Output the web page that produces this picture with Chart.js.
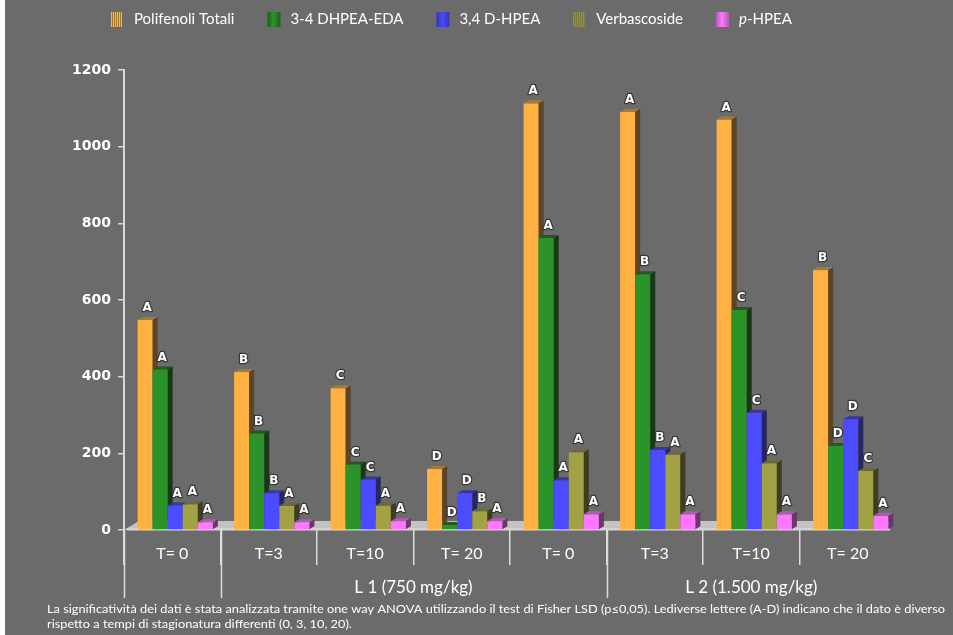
<!DOCTYPE html>
<html>
<head>
<meta charset="utf-8">
<script src="https://cdn.jsdelivr.net/npm/chart.js@4.4.1/dist/chart.umd.min.js"></script>
<style>
  html, body { margin: 0; padding: 0; background: #ffffff; }
  #wrap { position: relative; width: 953px; height: 635px; }
  canvas { display: block; }
</style>
</head>
<body>
<div id="wrap"><canvas id="chart" width="953" height="635"></canvas></div>
<script>
// Sampling times (months of ripening) for the two enrichment levels
const categories = ['T= 0', 'T=3', 'T=10', 'T= 20', 'T= 0', 'T=3', 'T=10', 'T= 20'];
const seriesNames = ['Polifenoli Totali', '3-4 DHPEA-EDA', '3,4 D-HPEA', 'Verbascoside', 'p-HPEA'];

// Phenolic content (mg/kg)
const polifenoliTotali = [548, 412, 370, 159, 1113, 1091, 1071, 678];
const dhpeaEda         = [419, 252, 171, 13, 762, 667, 574, 219];
const dHpea            = [64, 96, 132, 96, 130, 209, 306, 289];
const verbascoside     = [67, 63, 64, 49, 203, 197, 174, 154];
const pHpea            = [20, 20, 23, 23, 41, 41, 41, 37];

// Fisher LSD significance letters
const lettersPolifenoli   = ['A', 'B', 'C', 'D', 'A', 'A', 'A', 'B'];
const lettersDhpeaEda     = ['A', 'B', 'C', 'D', 'A', 'B', 'C', 'D'];
const lettersDHpea        = ['A', 'B', 'C', 'D', 'A', 'B', 'C', 'D'];
const lettersVerbascoside = ['A', 'A', 'A', 'B', 'A', 'A', 'A', 'C'];
const lettersPHpea        = ['A', 'A', 'A', 'A', 'A', 'A', 'A', 'A'];

const yTicks = [0, 200, 400, 600, 800, 1000, 1200];

// Level groups: label and the category boundaries they span
const groupLabels = ['L 1 (750 mg/kg)', 'L 2 (1.500 mg/kg)'];
const groupSpans = [[1, 5], [5, 8]];
const longDividers = [0, 1, 5];

const footnote = [
  'La significatività dei dati è stata analizzata tramite one way ANOVA utilizzando il test di Fisher LSD (p≤0,05). Lediverse lettere (A-D) indicano che il dato è diverso',
  'rispetto a tempi di stagionatura differenti (0, 3, 10, 20).'
];

const seriesValues = [polifenoliTotali, dhpeaEda, dHpea, verbascoside, pHpea];
const seriesLetters = [lettersPolifenoli, lettersDhpeaEda, lettersDHpea, lettersVerbascoside, lettersPHpea];

const palette = [
  { front: '#ffb142', top: '#a87a30', side: '#5c4426', swatch: 'stripe' },
  { front: '#2b9429', top: '#1f5c1d', side: '#193818', swatch: 'grad' },
  { front: '#4b4bff', top: '#3636a6', side: '#262660', swatch: 'grad' },
  { front: '#a3a145', top: '#6c6a32', side: '#3e3d22', swatch: 'stripe' },
  { front: '#ff77ff', top: '#b25ab2', side: '#683868', swatch: 'grad' }
];

const BG = '#6b6b6b';
const DEPTH_X = 5, DEPTH_Y = 3, BAR_SHIFT = 3;

// Background panel
const backgroundPlugin = {
  id: 'panel',
  beforeDraw(chart) {
    const ctx = chart.ctx;
    ctx.save();
    ctx.fillStyle = '#ffffff';
    ctx.fillRect(0, 0, chart.width, chart.height);
    ctx.fillStyle = BG;
    ctx.fillRect(5, 0, chart.width - 5, chart.height);
    ctx.restore();
  }
};

// Floor + 3D boxes + significance letters
const bars3dPlugin = {
  id: 'bars3d',
  beforeDatasetsDraw(chart) {
    const ctx = chart.ctx;
    const area = chart.chartArea;
    const base = chart.scales.y.getPixelForValue(0);
    ctx.save();
    // floor
    const fx0 = area.left, fx1 = area.right - 6, fb = base;
    ctx.fillStyle = '#c3c3c3';
    ctx.beginPath();
    ctx.moveTo(fx0, fb);
    ctx.lineTo(fx0 + 15, fb - 9);
    ctx.lineTo(fx1, fb - 9);
    ctx.lineTo(fx1, fb);
    ctx.closePath();
    ctx.fill();
    ctx.fillStyle = '#d4d4d4';
    ctx.fillRect(fx0 + 3, fb - 2, fx1 - fx0 - 3, 2.5);

    // boxes, left to right so each front face hides its neighbour's side
    chart.data.datasets.forEach((ds, i) => {
      const meta = chart.getDatasetMeta(i);
      const col = palette[i];
      meta.data.forEach((bar) => {
        const p = bar.getProps(['x', 'y', 'base', 'width'], true);
        const l = p.x - p.width / 2 + BAR_SHIFT;
        const r = p.x + p.width / 2 + BAR_SHIFT;
        const t = p.y, b = p.base;
        ctx.fillStyle = col.front;
        ctx.fillRect(l, t, r - l, b - t);
        ctx.fillStyle = col.top;
        ctx.beginPath();
        ctx.moveTo(l, t);
        ctx.lineTo(l + DEPTH_X, t - DEPTH_Y);
        ctx.lineTo(r + DEPTH_X, t - DEPTH_Y);
        ctx.lineTo(r, t);
        ctx.closePath();
        ctx.fill();
        ctx.fillStyle = col.side;
        ctx.beginPath();
        ctx.moveTo(r, t);
        ctx.lineTo(r + DEPTH_X, t - DEPTH_Y);
        ctx.lineTo(r + DEPTH_X, b - DEPTH_Y);
        ctx.lineTo(r, b);
        ctx.closePath();
        ctx.fill();
      });
    });

    // letters above each box
    ctx.font = 'bold 12px "DejaVu Sans"';
    ctx.textAlign = 'center';
    ctx.textBaseline = 'middle';
    ctx.lineJoin = 'round';
    chart.data.datasets.forEach((ds, i) => {
      const meta = chart.getDatasetMeta(i);
      meta.data.forEach((bar, j) => {
        const p = bar.getProps(['x', 'y'], true);
        const x = p.x + BAR_SHIFT + 2;
        const y = p.y - 12;
        const txt = seriesLetters[i][j];
        ctx.strokeStyle = 'rgba(40,40,40,0.75)';
        ctx.lineWidth = 2.5;
        ctx.strokeText(txt, x, y);
        ctx.fillStyle = '#ffffff';
        ctx.fillText(txt, x, y);
      });
    });
    ctx.restore();
    return false;
  }
};

// Legend, level groups and footnote
const decorPlugin = {
  id: 'decor',
  afterDraw(chart) {
    const ctx = chart.ctx;
    const xs = chart.scales.x;
    const bottom = chart.chartArea.bottom;
    ctx.save();

    // level dividers
    ctx.strokeStyle = '#dcdcdc';
    ctx.lineWidth = 1.5;
    longDividers.forEach((k) => {
      const x = Math.round(xs.getPixelForValue(k - 0.5)) + 0.5;
      ctx.beginPath();
      ctx.moveTo(x, bottom);
      ctx.lineTo(x, bottom + 68);
      ctx.stroke();
    });

    // level labels
    ctx.fillStyle = '#ffffff';
    ctx.font = '17px Lato';
    ctx.textAlign = 'center';
    ctx.textBaseline = 'middle';
    groupLabels.forEach((lab, g) => {
      const [a, b] = groupSpans[g];
      const x = (xs.getPixelForValue(a - 0.5) + xs.getPixelForValue(b - 0.5)) / 2;
      ctx.fillText(lab, x, bottom + 58);
    });

    // footnote
    ctx.font = '12px Lato';
    ctx.textAlign = 'left';
    ctx.textBaseline = 'middle';
    const k = 898 / ctx.measureText(footnote[0]).width;
    footnote.forEach((line, n) => {
      ctx.save();
      ctx.translate(47, 609 + n * 15);
      ctx.scale(k, 1);
      ctx.fillText(line, 0, 0);
      ctx.restore();
    });

    // legend
    let x = 111;
    const ly = 19;
    const legendFont = '15px Lato';
    ctx.font = legendFont;
    seriesNames.forEach((name, i) => {
      const col = palette[i];
      const sw = 13, sh = 15, sy = ly - 7;
      if (col.swatch === 'stripe') {
        ctx.fillStyle = col.top;
        ctx.fillRect(x, sy, sw - 3, sh);
        ctx.fillStyle = col.front;
        for (let s = 0; s < sw - 2; s += 2) ctx.fillRect(x + s, sy, 1, sh);
      } else {
        const g = ctx.createLinearGradient(x, 0, x + sw, 0);
        g.addColorStop(0, col.top);
        g.addColorStop(0.45, col.front);
        g.addColorStop(1, col.top);
        ctx.fillStyle = g;
        ctx.fillRect(x, sy, sw, sh);
      }
      let tx = x + 23;
      ctx.fillStyle = '#ffffff';
      ctx.textAlign = 'left';
      if (name.startsWith('p-')) {
        ctx.font = 'italic ' + legendFont;
        ctx.fillText('p', tx, ly);
        tx += ctx.measureText('p').width;
        ctx.font = legendFont;
        ctx.fillText(name.slice(1), tx, ly);
        tx += ctx.measureText(name.slice(1)).width;
      } else {
        ctx.fillText(name, tx, ly);
        tx += ctx.measureText(name).width;
      }
      x = tx + 33;
    });
    ctx.restore();
  }
};

new Chart(document.getElementById('chart'), {
  type: 'bar',
  data: {
    labels: categories,
    datasets: seriesNames.map((name, i) => ({
      label: name,
      data: seriesValues[i],
      backgroundColor: palette[i].front
    }))
  },
  options: {
    responsive: false,
    animation: false,
    devicePixelRatio: 1,
    layout: { padding: { left: 0, top: 70, right: 57, bottom: 0 } },
    datasets: { bar: { categoryPercentage: 0.78, barPercentage: 1.0 } },
    plugins: { legend: { display: false }, tooltip: { enabled: false } },
    scales: {
      x: {
        offset: true,
        border: { display: false },
        grid: {
          offset: true,
          drawOnChartArea: false,
          drawTicks: true,
          tickLength: 35,
          lineWidth: 1.5,
          color: (c) => (c.type === 'tick' ? '#dcdcdc' : 'rgba(0,0,0,0)')
        },
        ticks: {
          color: '#ffffff',
          font: { family: 'Lato', size: 16 },
          padding: -21,
          maxRotation: 0,
          autoSkip: false
        },
        afterFit(s) { s.height = 105; }
      },
      y: {
        min: 0,
        max: 1200,
        afterBuildTicks(s) { s.ticks = yTicks.map((v) => ({ value: v })); },
        border: { color: '#d8d8d8', width: 2 },
        grid: { drawOnChartArea: false, tickLength: 6, lineWidth: 1.5, color: '#d8d8d8' },
        ticks: {
          color: '#ffffff',
          font: { family: 'DejaVu Sans', size: 14, weight: 'bold' },
          padding: 7,
          callback: (v) => String(v)
        },
        afterFit(s) { s.width = 124; }
      }
    }
  },
  plugins: [backgroundPlugin, bars3dPlugin, decorPlugin]
});
</script>
</body>
</html>
